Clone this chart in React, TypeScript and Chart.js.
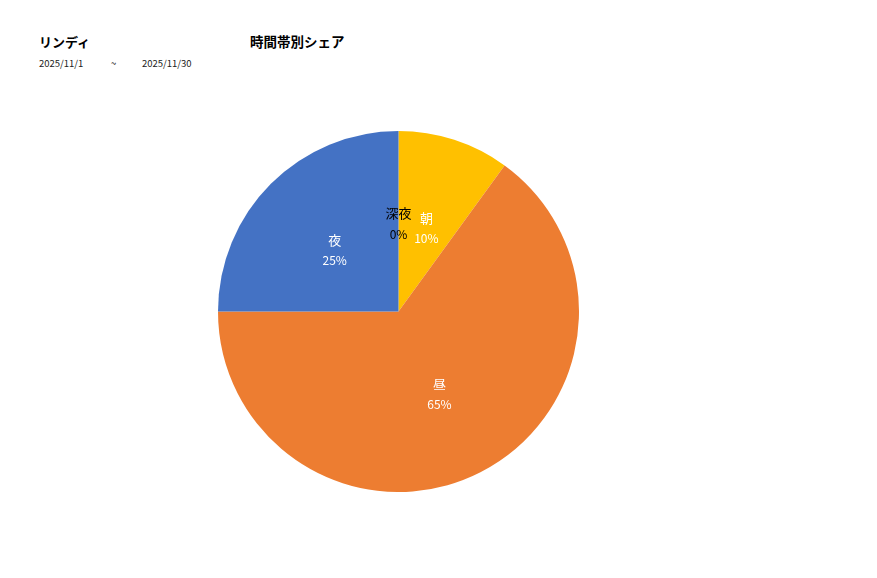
import React, { useEffect, useRef } from "react";
import { Chart, registerables, ChartConfiguration, Plugin } from "chart.js";

Chart.register(...registerables);

// slices, clockwise from 12 o'clock
const categories = ["深夜", "朝", "昼", "夜"];
const shares = [0, 10, 65, 25];
const sliceColors = ["#A5A5A5", "#FFC000", "#ED7D31", "#4472C4"];
const labelColors = ["#000000", "#ffffff", "#ffffff", "#ffffff"];

const FONT = "'Noto Sans CJK JP', 'Noto Sans', sans-serif";

// draws name + percent in the middle of each slice
const sliceLabels: Plugin<"pie"> = {
  id: "sliceLabels",
  afterDatasetsDraw(chart) {
    const ctx = chart.ctx;
    const meta = chart.getDatasetMeta(0);
    const total = shares.reduce((a, b) => a + b, 0);
    ctx.save();
    ctx.textAlign = "center";
    ctx.textBaseline = "middle";
    meta.data.forEach((arc, i) => {
      const p = arc.tooltipPosition(false);
      const pct = Math.round((shares[i] / total) * 100) + "%";
      ctx.fillStyle = labelColors[i];
      ctx.font = `13px ${FONT}`;
      ctx.fillText(categories[i], p.x, p.y - 8);
      ctx.font = `12px ${FONT}`;
      ctx.fillText(pct, p.x, p.y + 13);
    });
    ctx.restore();
  },
};

const App: React.FC = () => {
  const chartRef = useRef<HTMLCanvasElement>(null);
  const chartInstanceRef = useRef<Chart<"pie"> | null>(null);

  useEffect(() => {
    if (!chartRef.current) return;
    const config: ChartConfiguration<"pie"> = {
      type: "pie",
      data: {
        labels: categories,
        datasets: [
          {
            data: shares,
            backgroundColor: sliceColors,
            borderWidth: 0,
          },
        ],
      },
      options: {
        animation: false,
        responsive: true,
        maintainAspectRatio: false,
        layout: { padding: 0 },
        plugins: {
          legend: { display: false },
          tooltip: { enabled: false },
        },
      },
      plugins: [sliceLabels],
    };

    if (chartInstanceRef.current) chartInstanceRef.current.destroy();
    chartInstanceRef.current = new Chart(chartRef.current, config);

    return () => {
      if (chartInstanceRef.current) {
        chartInstanceRef.current.destroy();
        chartInstanceRef.current = null;
      }
    };
  }, []);

  return (
    <div
      style={{
        position: "absolute",
        left: 0,
        top: 0,
        width: 877,
        height: 578,
        background: "#fff",
        fontFamily: FONT,
        color: "#000",
      }}
    >
      <div style={{ position: "absolute", left: 39, top: 32, fontSize: 13, fontWeight: "bold" }}>
        リンディ
      </div>
      <div style={{ position: "absolute", left: 250, top: 31, fontSize: 13.5, fontWeight: "bold" }}>
        時間帯別シェア
      </div>
      <div style={{ position: "absolute", left: 39, top: 56, fontSize: 9.5, color: "#222" }}>
        2025/11/1
      </div>
      <div style={{ position: "absolute", left: 111, top: 56, fontSize: 9.5, color: "#222" }}>
        ~
      </div>
      <div style={{ position: "absolute", left: 142, top: 56, fontSize: 9.5, color: "#222" }}>
        2025/11/30
      </div>
      <div style={{ position: "absolute", left: 218, top: 131, width: 361, height: 361 }}>
        <canvas ref={chartRef}></canvas>
      </div>
    </div>
  );
};

export default App;
